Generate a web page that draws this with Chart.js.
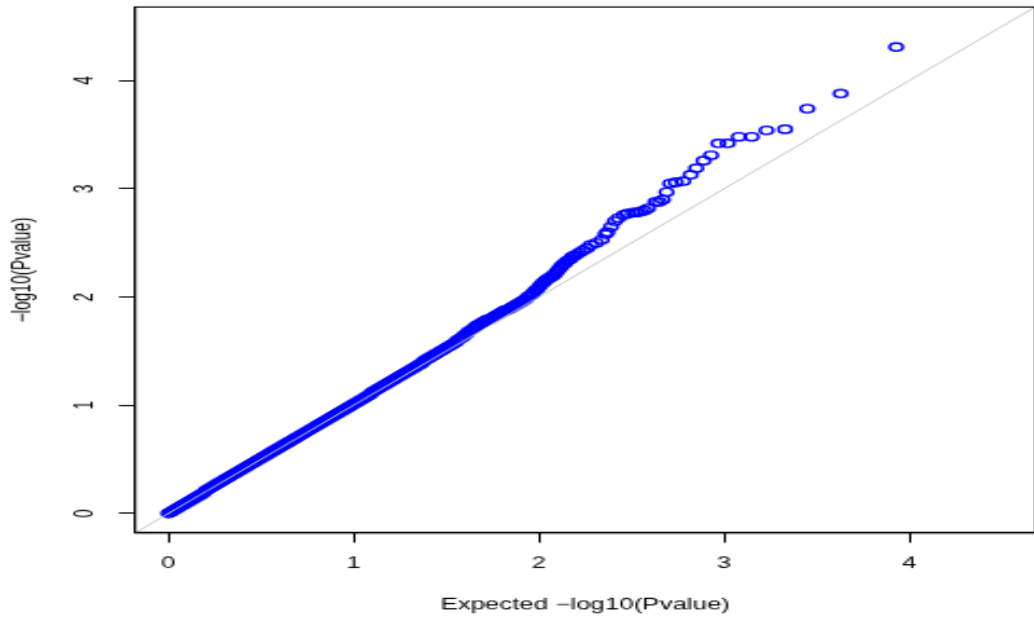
<!DOCTYPE html>
<html>
<head>
<meta charset="utf-8">
<script src="https://cdn.jsdelivr.net/npm/chart.js@4"></script>
<style>
  html, body { margin: 0; padding: 0; overflow: hidden; background: #fff; width: 1034px; height: 621px; }
  #wrap { position: absolute; left: 0; top: 0; width: 485px; height: 480px;
          transform: scale(2.15417, 1.29375); transform-origin: 0 0; }
</style>
</head>
<body>
<div id="wrap"><canvas id="c"></canvas></div>
<script>
// ---- data ----
const expected = [
  0.00,0.01,0.02,0.03,0.04,0.05,0.06,0.07,0.08,0.09,
  0.10,0.11,0.12,0.13,0.14,0.15,0.16,0.17,0.18,0.19,
  0.20,0.21,0.22,0.23,0.24,0.25,0.26,0.27,0.28,0.29,
  0.30,0.31,0.32,0.33,0.34,0.35,0.36,0.37,0.38,0.39,
  0.40,0.41,0.42,0.43,0.44,0.45,0.46,0.47,0.48,0.49,
  0.50,0.51,0.52,0.53,0.54,0.55,0.56,0.57,0.58,0.59,
  0.60,0.61,0.62,0.63,0.64,0.65,0.66,0.67,0.68,0.69,
  0.70,0.71,0.72,0.73,0.74,0.75,0.76,0.77,0.78,0.79,
  0.80,0.81,0.82,0.83,0.84,0.85,0.86,0.87,0.88,0.89,
  0.90,0.91,0.92,0.93,0.94,0.95,0.96,0.97,0.98,0.99,
  1.00,1.01,1.02,1.03,1.04,1.05,1.06,1.07,1.08,1.09,
  1.10,1.11,1.12,1.13,1.14,1.15,1.16,1.17,1.18,1.19,
  1.20,1.21,1.22,1.23,1.24,1.25,1.26,1.27,1.28,1.29,
  1.30,1.31,1.32,1.33,1.34,1.35,1.36,1.37,1.38,1.39,
  1.40,1.41,1.42,1.43,1.44,1.45,1.46,1.47,1.48,1.49,
  1.50,1.51,1.52,1.53,1.54,1.55,1.56,1.57,1.58,1.59,
  1.60,1.61,1.62,1.63,1.64,1.65,1.66,1.67,1.68,1.69,
  1.70,1.71,1.72,1.73,1.74,1.75,1.76,1.77,1.78,1.79,
  1.80,1.81,1.82,1.83,1.84,1.85,1.86,1.87,1.88,1.89,
  1.90,1.91,1.92,1.93,1.94,1.95,1.96,1.97,1.98,1.99,
  2.00,2.01,2.02,2.03,2.04,2.05,2.06,2.07,2.08,2.09,
  2.10,2.11,2.12,2.13,2.14,2.15,2.16,2.17,2.18,2.19,
  2.20,2.22,2.24,2.26,2.28,2.31,2.34,2.36,2.37,2.39,
  2.41,2.43,2.46,2.48,2.51,2.53,2.55,2.57,2.59,2.63,
  2.65,2.67,2.69,2.71,2.74,2.78,2.82,2.85,2.89,2.93,
  2.97,3.02,3.08,3.15,3.23,3.33,3.45,3.63,3.93
];
const observed = [
  0.00,0.01,0.02,0.03,0.04,0.05,0.06,0.07,0.08,0.09,
  0.10,0.11,0.12,0.13,0.14,0.15,0.16,0.17,0.18,0.19,
  0.21,0.22,0.23,0.24,0.25,0.26,0.27,0.28,0.29,0.30,
  0.31,0.32,0.33,0.34,0.35,0.36,0.37,0.38,0.39,0.40,
  0.41,0.42,0.43,0.44,0.45,0.46,0.47,0.48,0.49,0.50,
  0.51,0.52,0.53,0.54,0.55,0.56,0.57,0.58,0.59,0.60,
  0.61,0.62,0.63,0.64,0.65,0.66,0.67,0.68,0.69,0.70,
  0.71,0.72,0.73,0.74,0.75,0.76,0.77,0.78,0.79,0.80,
  0.81,0.82,0.83,0.84,0.85,0.86,0.87,0.88,0.89,0.90,
  0.91,0.92,0.93,0.94,0.95,0.96,0.97,0.98,0.99,1.00,
  1.01,1.02,1.03,1.04,1.05,1.06,1.07,1.08,1.09,1.10,
  1.12,1.13,1.14,1.15,1.16,1.17,1.18,1.19,1.20,1.21,
  1.22,1.23,1.24,1.25,1.26,1.27,1.28,1.29,1.30,1.31,
  1.32,1.33,1.34,1.35,1.36,1.37,1.38,1.39,1.41,1.42,
  1.43,1.44,1.45,1.46,1.47,1.48,1.49,1.50,1.51,1.52,
  1.53,1.54,1.55,1.56,1.57,1.58,1.60,1.61,1.62,1.63,
  1.65,1.66,1.68,1.69,1.70,1.71,1.73,1.74,1.75,1.76,
  1.77,1.78,1.79,1.79,1.80,1.81,1.82,1.83,1.84,1.85,
  1.86,1.87,1.88,1.88,1.89,1.90,1.91,1.92,1.93,1.94,
  1.95,1.96,1.97,1.98,2.00,2.01,2.02,2.04,2.06,2.07,
  2.09,2.11,2.13,2.14,2.16,2.17,2.18,2.19,2.20,2.22,
  2.24,2.26,2.28,2.30,2.31,2.33,2.34,2.35,2.37,2.38,
  2.39,2.41,2.43,2.45,2.48,2.50,2.53,2.58,2.60,2.65,
  2.70,2.73,2.76,2.77,2.78,2.78,2.79,2.80,2.82,2.88,
  2.88,2.90,2.97,3.05,3.06,3.07,3.13,3.19,3.26,3.31,
  3.42,3.42,3.48,3.48,3.54,3.55,3.74,3.88,4.31
];
const axisRange = [-0.18, 4.68];
const xTickValues = [0, 1, 2, 3, 4];
const yTickValues = [0, 1, 2, 3, 4];
const xTitle = 'Expected \u2212log10(Pvalue)';
const yTitle = '\u2212log10(Pvalue)';

// ---- build chart ----
const points = expected.map((x, i) => ({ x: x, y: observed[i] }));
const refLine = [{ x: axisRange[0], y: axisRange[0] }, { x: axisRange[1], y: axisRange[1] }];
const FONT = "'Liberation Sans', Arial, Helvetica, sans-serif";

const boxPlugin = {
  id: 'box',
  afterDraw(chart) {
    const { ctx, chartArea: a } = chart;
    ctx.save();
    ctx.strokeStyle = '#000';
    ctx.lineWidth = 1;
    ctx.strokeRect(a.left, a.top, a.right - a.left, a.bottom - a.top);
    ctx.restore();
  }
};

function noPad(s) { s.paddingTop = 0; s.paddingBottom = 0; s.paddingLeft = 0; s.paddingRight = 0; }

new Chart(document.getElementById('c'), {
  type: 'scatter',
  data: {
    datasets: [
      {
        data: refLine,
        showLine: true,
        borderColor: '#c4c4c4',
        borderWidth: 1,
        pointRadius: 0,
        order: 0
      },
      {
        data: points,
        showLine: false,
        pointStyle: 'circle',
        pointRadius: 3.1,
        pointHoverRadius: 3.1,
        borderWidth: 1.4,
        borderColor: '#0000ff',
        backgroundColor: 'rgba(0,0,0,0)',
        order: 1
      }
    ]
  },
  options: {
    responsive: true,
    maintainAspectRatio: false,
    animation: false,
    devicePixelRatio: 1,
    layout: { padding: { top: 5.4, right: 2.4, bottom: 0, left: 0 } },
    plugins: { legend: { display: false }, tooltip: { enabled: false } },
    events: [],
    scales: {
      x: {
        type: 'linear',
        min: axisRange[0],
        max: axisRange[1],
        afterBuildTicks(s) { s.ticks = xTickValues.map(v => ({ value: v })); },
        afterFit(s) { s.height = 68.1; noPad(s); },
        grid: { drawOnChartArea: false, drawTicks: true, tickLength: 7.5, color: '#000', lineWidth: 1 },
        border: { display: true, color: '#000', width: 1 },
        ticks: { color: '#000', font: { family: FONT, size: 12 }, padding: 8.6, maxRotation: 0, minRotation: 0 },
        title: { display: true, text: xTitle, color: '#000', font: { family: FONT, size: 12 }, padding: { top: 0, bottom: 5.2 } }
      },
      y: {
        type: 'linear',
        min: axisRange[0],
        max: axisRange[1],
        afterBuildTicks(s) { s.ticks = yTickValues.map(v => ({ value: v })); },
        afterFit(s) { s.width = 62.7; noPad(s); },
        grid: { drawOnChartArea: false, drawTicks: true, tickLength: 7.5, color: '#000', lineWidth: 1 },
        border: { display: true, color: '#000', width: 1 },
        ticks: { color: '#000', font: { family: FONT, size: 12 }, padding: 11.8, minRotation: 90, maxRotation: 90, crossAlign: 'center' },
        title: { display: true, text: yTitle, color: '#000', font: { family: FONT, size: 12 }, padding: { top: 3, bottom: 0 } }
      }
    }
  },
  plugins: [boxPlugin]
});
</script>
</body>
</html>
